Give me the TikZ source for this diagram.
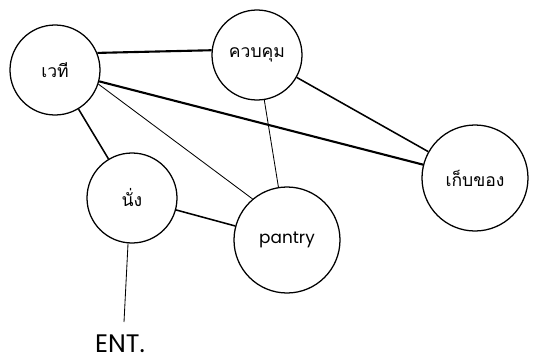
\documentclass[tikz,border=0pt]{standalone}
\usepackage{fontspec}
\newfontfamily\thaifont[Script=Thai]{Loma}
\newfontfamily\latinfont{Poppins}
\usepackage{tikz}

\begin{document}
\begin{tikzpicture}
		[x=0.05cm, y=-0.05cm,
		room/.style={draw, circle, line width=1.8pt, inner sep=0pt, minimum size=2*#1*0.05cm},
		room/.default=45,
		thai label/.style={font=\thaifont\fontsize{25}{27}\selectfont},
		heavy link/.style={line width=3pt},
		mid link/.style={line width=2.2pt},
		light link/.style={line width=1.2pt}]
		
		\useasboundingbox (0,0) rectangle (540,363);
		
		% rooms
		\node[room, thai label] (stage) at (55,70) {เวที};
		\node[room, thai label] (control) at (257,55) {ควบคุม};
		\node[room=53, thai label] (store) at (475,178) {เก็บของ};
		\node[room, thai label] (seat) at (132,198) {นั่ง};
		\node[room=53, font=\latinfont\fontsize{24}{26}\selectfont, text depth=6pt] (pantry) at (287,240) {pantry};
		\node[font=\latinfont\fontsize{36}{40}\selectfont, inner sep=0pt, anchor=south] (ent) at (120,353) {ENT.};
		\coordinate (door) at (124,322);
		
		% links
		\draw[heavy link] (stage.22) -- (control.174);
		\draw[heavy link] (stage) -- (store);
		\draw[mid link] (stage) -- (seat);
		\draw[light link] (stage.-18) -- (pantry.130);
		\draw[light link] (control) -- (pantry);
		\draw[mid link] (control) -- (store);
		\draw[mid link] (seat) -- (pantry);
		\draw[light link] (seat.-95) -- (door);

	\end{tikzpicture}
\end{document}
